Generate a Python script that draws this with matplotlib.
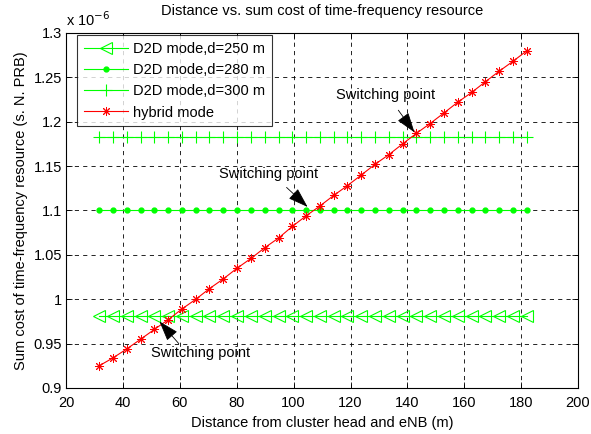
import matplotlib
matplotlib.use('Agg')
import matplotlib.pyplot as plt

plt.rcParams['font.family'] = ['Liberation Sans', 'DejaVu Sans']
plt.rcParams['font.size'] = 10.5

# distance from cluster head to eNB (m)
distance = [31.6, 36.5, 41.3, 46.2, 51.0, 55.9, 60.7, 65.6, 70.4, 75.3,
            80.1, 85.0, 89.8, 94.7, 99.5, 104.4, 109.2, 114.1, 118.9, 123.8,
            128.6, 133.5, 138.3, 143.2, 148.0, 152.9, 157.7, 162.6, 167.4,
            172.3, 177.1, 182.0]

# sum cost, in units of 1e-6
d2d_250 = [0.981] * len(distance)
d2d_280 = [1.100] * len(distance)
d2d_300 = [1.183] * len(distance)
hybrid = [0.925, 0.934, 0.944, 0.955, 0.966, 0.977, 0.989, 1.000, 1.012,
          1.023, 1.035, 1.046, 1.058, 1.069, 1.082, 1.094, 1.105, 1.117,
          1.128, 1.140, 1.152, 1.163, 1.175, 1.187, 1.198, 1.210, 1.222,
          1.233, 1.245, 1.257, 1.268, 1.280]

fig = plt.figure(figsize=(5.91, 4.34), dpi=100)
ax = fig.add_axes([0.112, 0.106, 0.866, 0.818])

green = '#00ff00'
ax.plot(distance, d2d_250, color=green, lw=0.8, marker='<', ms=8,
        mfc='none', mec=green, mew=0.8, label='D2D mode,d=250 m')
ax.plot(distance, d2d_280, color=green, lw=0.8, marker='o', ms=3.5,
        mfc=green, mec=green, label='D2D mode,d=280 m')
ax.plot(distance, d2d_300, color=green, lw=0.8, marker='+', ms=8,
        mew=0.8, label='D2D mode,d=300 m')
ax.plot(distance, hybrid, color='red', lw=0.8, marker=(8, 2, 0), ms=6.5,
        mew=0.7, label='hybrid mode')

ax.set_xlim(20, 200)
ax.set_ylim(0.9, 1.3)
ax.set_xticks(range(20, 201, 20))
ax.set_yticks([0.9, 0.95, 1.0, 1.05, 1.1, 1.15, 1.2, 1.25, 1.3])
ax.set_yticklabels(['0.9', '0.95', '1', '1.05', '1.1', '1.15', '1.2', '1.25', '1.3'])
ax.tick_params(direction='in', top=True, right=True, length=4, width=0.6,
               labelsize=10.5, colors='black')
ax.tick_params(axis='x', pad=6)
ax.tick_params(axis='y', pad=3)
ax.grid(True, color='black', linestyle=(0, (5, 5)), linewidth=0.6)
for s in ax.spines.values():
    s.set_linewidth(0.8)

ax.set_title('Distance vs. sum cost of time-frequency resource', fontsize=10.5,
             pad=13)
ax.set_xlabel('Distance from cluster head and eNB (m)', fontsize=10.5, labelpad=4)
ax.set_ylabel('Sum cost of time-frequency resource (s. N. PRB)', fontsize=10.5,
              labelpad=4)
ax.text(0.0, 1.01, r'x 10$^{-6}$', transform=ax.transAxes, fontsize=10.5,
        va='bottom', ha='left')

arrow = dict(arrowstyle='-|>,head_length=0.9,head_width=0.3', color='black',
             lw=0.6, mutation_scale=14, shrinkA=0, shrinkB=0)
ax.text(132.3, 1.230, 'Switching point', fontsize=10.5, ha='center', va='center')
ax.annotate('', xy=(142.5, 1.188), xytext=(136.8, 1.213), arrowprops=arrow)
ax.text(91.0, 1.141, 'Switching point', fontsize=10.5, ha='center', va='center')
ax.annotate('', xy=(104.9, 1.104), xytext=(97.5, 1.126), arrowprops=arrow)
ax.text(67.4, 0.939, 'Switching point', fontsize=10.5, ha='center', va='center')
ax.annotate('', xy=(52.8, 0.975), xytext=(59.6, 0.950), arrowprops=arrow)

leg = ax.legend(loc='upper left', fontsize=10.5, frameon=True, fancybox=False,
                edgecolor='black', handlelength=3.0, borderpad=0.45,
                labelspacing=0.5, handletextpad=0.4, borderaxespad=0,
                bbox_to_anchor=(0.0215, 0.994))
leg.get_frame().set_linewidth(0.8)

fig.savefig('out.png', dpi=100)
